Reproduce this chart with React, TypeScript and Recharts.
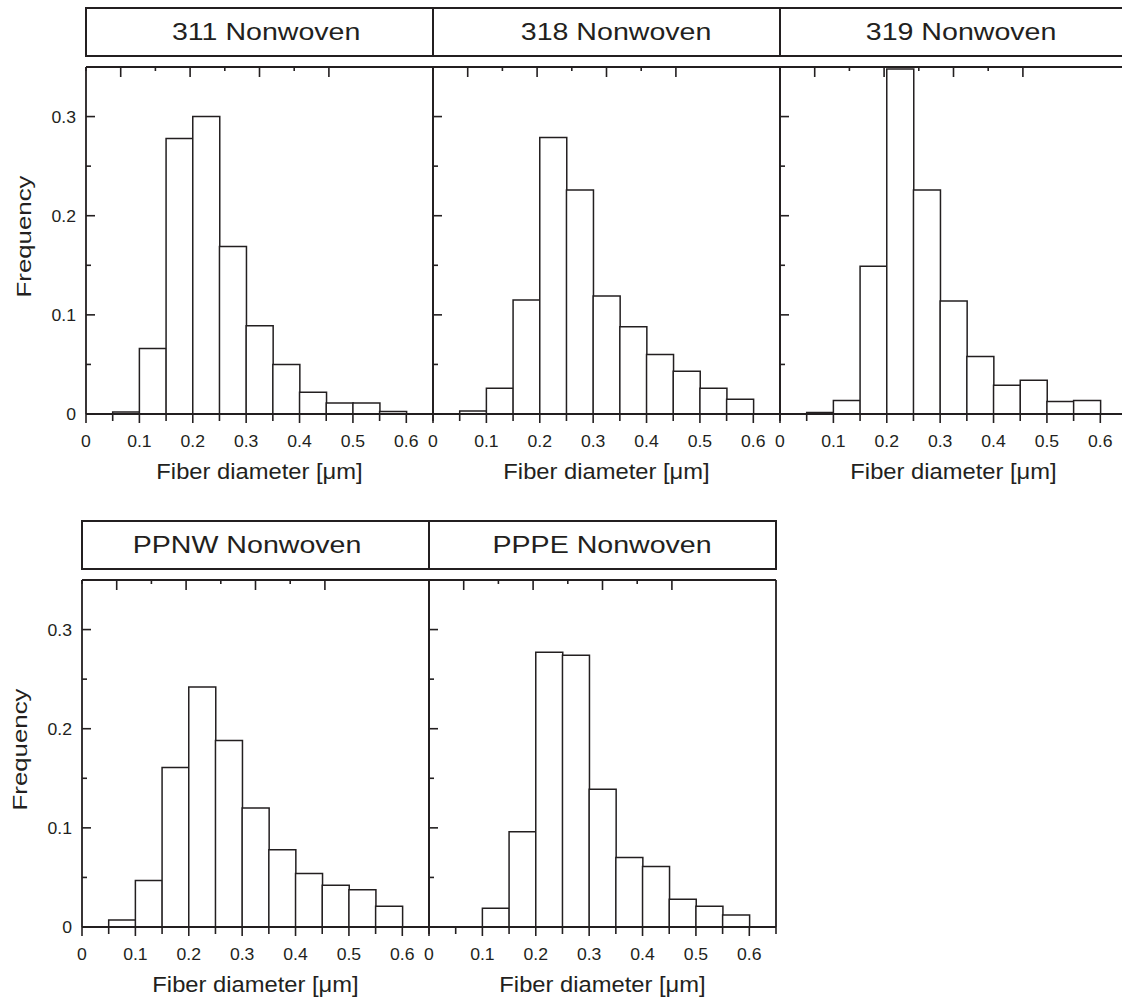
import React from 'react'
import { Bar, BarChart, XAxis, YAxis } from 'recharts'

// bin centres, bins are 0.05 wide
const binCenters = [0.075, 0.125, 0.175, 0.225, 0.275, 0.325, 0.375, 0.425, 0.475, 0.525, 0.575]

const freq311 = [0.002, 0.066, 0.278, 0.3, 0.169, 0.089, 0.05, 0.022, 0.011, 0.011, 0.0025]
const freq318 = [0.003, 0.026, 0.115, 0.279, 0.226, 0.119, 0.088, 0.06, 0.043, 0.026, 0.015]
const freq319 = [0.0015, 0.0135, 0.149, 0.348, 0.226, 0.114, 0.058, 0.029, 0.034, 0.0125, 0.0135]
const freqPPNW = [0.007, 0.047, 0.161, 0.242, 0.188, 0.12, 0.078, 0.054, 0.042, 0.0375, 0.021]
const freqPPPE = [0, 0.019, 0.096, 0.277, 0.274, 0.139, 0.07, 0.061, 0.028, 0.021, 0.012]

const xTicks = [0, 0.05, 0.1, 0.15, 0.2, 0.25, 0.3, 0.35, 0.4, 0.45, 0.5, 0.55, 0.6, 0.65]
const xTickLabels = ['0', '0.1', '0.2', '0.3', '0.4', '0.5', '0.6']
const yTicks = [0, 0.05, 0.1, 0.15, 0.2, 0.25, 0.3, 0.35]
const yTickLabels = ['0', '0.1', '0.2', '0.3']
const topTicks = [0, 1, 2, 3, 4, 5, 6, 7]

const INK = '#231f20'
const FONT = '"Liberation Sans", Arial, Helvetica, sans-serif'
const PLOT = 347
const ML = 80
const MR = 10
const MT = 10
const MB = 80

// the source figure uses a slightly wide face, so text is stretched along its baseline
function SText({ x, y, size, sx, anchor = 'middle', rotate = 0, children }: any) {
  return (
    <text
      transform={`translate(${x} ${y}) rotate(${rotate}) scale(${sx} 1)`}
      textAnchor={anchor}
      fontSize={size}
      fontFamily={FONT}
      fill={INK}
    >
      {children}
    </text>
  )
}

function BottomTick({ x, y, payload }: any) {
  const k = Math.round(payload.value / 0.05)
  const major = k % 2 === 0
  return (
    <g>
      <line x1={x} x2={x} y1={y} y2={y + (major ? 9 : 7)} stroke={INK} strokeWidth={1.6} />
      {major && k <= 12 && (
        <SText x={x} y={y + 33} size={16} sx={1.1}>
          {xTickLabels[k / 2]}
        </SText>
      )}
    </g>
  )
}

function LeftTick({ x, y, payload, showLabel }: any) {
  const k = Math.round(payload.value / 0.05)
  const major = k % 2 === 0
  return (
    <g>
      <line x1={x} x2={x + (major ? 9 : 5)} y1={y} y2={y} stroke={INK} strokeWidth={1.6} />
      {showLabel && major && k <= 6 && (
        <SText x={x - 10} y={y + 6} size={16} sx={1.1} anchor="end">
          {yTickLabels[k / 2]}
        </SText>
      )}
    </g>
  )
}

function RightTick({ x, y, payload }: any) {
  const k = Math.round(payload.value / 0.05)
  const major = k % 2 === 0
  return <line x1={x} x2={x - (major ? 9 : 4)} y1={y} y2={y} stroke={INK} strokeWidth={1.6} />
}

function TopTick({ x, y, payload }: any) {
  const major = payload.value % 2 === 1
  return <line x1={x} x2={x} y1={y} y2={y + (major ? 10 : 4)} stroke={INK} strokeWidth={1.6} />
}

function XTitle(props: any) {
  const { x, y, width } = props.viewBox
  return (
    <SText x={x + width / 2} y={y + 65} size={22} sx={1.08}>
      Fiber diameter [μm]
    </SText>
  )
}

function YTitle(props: any) {
  const { x, y, width, height } = props.viewBox
  return (
    <SText x={x + width - 55} y={y + height / 2 - 4} size={21} sx={1.23} rotate={-90}>
      Frequency
    </SText>
  )
}

type PanelProps = {
  title: string
  values: number[]
  left: number
  top: number
  showY: boolean
  titleShift: number
}

function Panel({ title, values, left, top, showY, titleShift }: PanelProps) {
  const data = binCenters.map((c, i) => ({ x: c, v: values[i] }))
  return (
    <>
      <div
        style={{
          position: 'absolute',
          left: left - 1,
          top: top - 60,
          width: PLOT + 2,
          height: 50,
          boxSizing: 'border-box',
          border: `2px solid ${INK}`,
          display: 'flex',
          alignItems: 'center',
          justifyContent: 'center',
          fontFamily: FONT,
          fontSize: 24,
          color: INK,
        }}
      >
        <span
          style={{
            display: 'inline-block',
            whiteSpace: 'nowrap',
            transform: `translateX(${titleShift}px) scaleX(1.19)`,
          }}
        >
          {title}
        </span>
      </div>
      <div style={{ position: 'absolute', left: left - ML, top: top - MT }}>
        <BarChart
          width={ML + PLOT + MR}
          height={MT + PLOT + MB}
          data={data}
          margin={{ top: 0, right: 0, bottom: 0, left: 0 }}
          barCategoryGap={0}
          barGap={0}
        >
          <XAxis
            dataKey="x"
            type="number"
            domain={[0, 0.65]}
            ticks={xTicks}
            interval={0}
            height={MB}
            tickSize={0}
            tickMargin={0}
            tick={<BottomTick />}
            axisLine={{ stroke: INK, strokeWidth: 1.8 }}
            label={<XTitle />}
          />
          <XAxis
            xAxisId="top"
            orientation="top"
            type="number"
            domain={[-0.322, 7.632]}
            ticks={topTicks}
            interval={0}
            height={MT}
            tickSize={0}
            tickMargin={0}
            tick={<TopTick />}
            axisLine={{ stroke: INK, strokeWidth: 1.8 }}
          />
          <YAxis
            type="number"
            domain={[0, 0.35]}
            ticks={yTicks}
            interval={0}
            width={ML}
            tickSize={0}
            tickMargin={0}
            tick={<LeftTick showLabel={showY} />}
            axisLine={{ stroke: INK, strokeWidth: 1.8 }}
            label={showY ? <YTitle /> : undefined}
          />
          <YAxis
            yAxisId="right"
            orientation="right"
            type="number"
            domain={[0, 0.35]}
            ticks={yTicks}
            interval={0}
            width={MR}
            tickSize={0}
            tickMargin={0}
            tick={<RightTick />}
            axisLine={{ stroke: INK, strokeWidth: 1.8 }}
          />
          <Bar dataKey="v" fill="#ffffff" stroke={INK} strokeWidth={1.5} isAnimationActive={false} />
        </BarChart>
      </div>
    </>
  )
}

export default function App() {
  return (
    <div
      style={{
        position: 'absolute',
        left: 0,
        top: 0,
        width: 1122,
        height: 1001,
        overflow: 'hidden',
        background: '#fff',
      }}
    >
      <Panel title="311 Nonwoven" values={freq311} left={86} top={67} showY titleShift={7} />
      <Panel title="318 Nonwoven" values={freq318} left={433} top={67} showY={false} titleShift={10} />
      <Panel title="319 Nonwoven" values={freq319} left={780} top={67} showY={false} titleShift={8} />
      <Panel title="PPNW Nonwoven" values={freqPPNW} left={82} top={580} showY titleShift={-8} />
      <Panel title="PPPE Nonwoven" values={freqPPPE} left={429} top={580} showY={false} titleShift={0} />
    </div>
  )
}
